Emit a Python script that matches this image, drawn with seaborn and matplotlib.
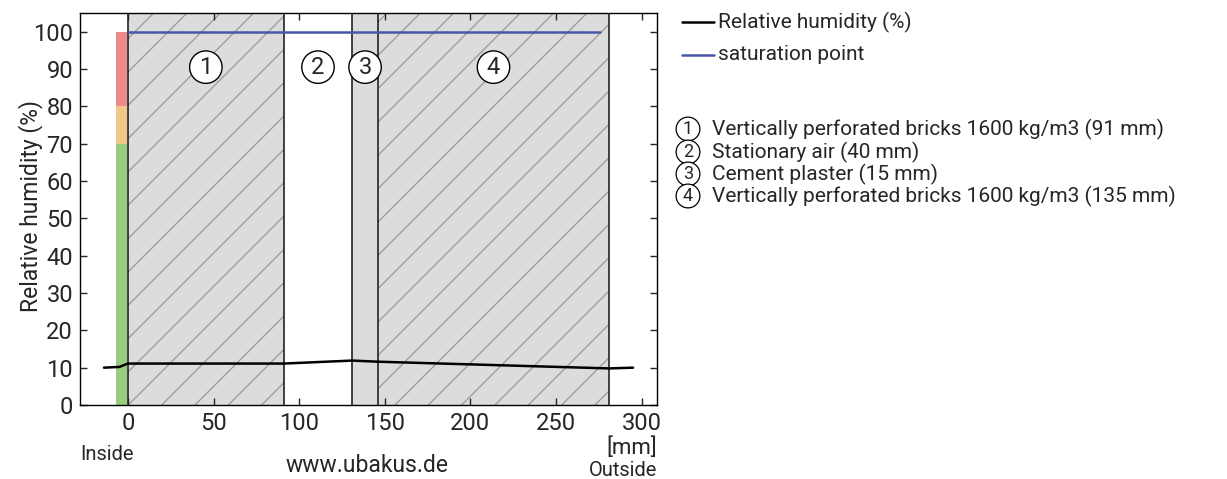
import matplotlib
matplotlib.use("Agg")
import matplotlib.pyplot as plt
import seaborn as sns
import pandas as pd
from matplotlib.lines import Line2D

# ---- data ----
layer_names = ["Vertically perforated bricks 1600 kg/m3 (91 mm)",
               "Stationary air (40 mm)",
               "Cement plaster (15 mm)",
               "Vertically perforated bricks 1600 kg/m3 (135 mm)"]
layer_thickness = [91, 40, 15, 135]
layer_kind = ["brick", "air", "plaster", "brick"]
layer_labels = ["1", "2", "3", "4"]

rh_x = [-14, -5, 0, 91, 131, 146, 281, 295]
rh_y = [10.0, 10.2, 11.1, 11.1, 11.9, 11.6, 9.8, 10.0]
sat_x = [0, 276]
sat_y = [100, 100]

scale_bounds = [0, 70, 80, 100]
scale_colors = ["#98cd7e", "#f0c987", "#ef8a8a"]

x_ticks = [0, 50, 100, 150, 200, 250, 300]
y_ticks = [0, 10, 20, 30, 40, 50, 60, 70, 80, 90, 100]

sns.set_style("ticks")
plt.rcParams['font.family'] = ['Roboto', 'DejaVu Sans']
plt.rcParams['hatch.linewidth'] = 0.9

fig = plt.figure(figsize=(12.27, 4.79), dpi=100)
ax = fig.add_axes([80/1227, 1-405/479, (657-80)/1227, (405-13)/479])

# layers
pos = 0
bounds = [0]
for t, kind, lab in zip(layer_thickness, layer_kind, layer_labels):
    x0, x1 = pos, pos + t
    if kind == "brick":
        ax.axvspan(x0, x1, facecolor="#dcdcdc", edgecolor="#999999", hatch="/", linewidth=0, zorder=0)
    elif kind == "plaster":
        ax.axvspan(x0, x1, facecolor="#dcdcdc", edgecolor="none", linewidth=0, zorder=0)
    ax.text((x0 + x1) / 2, 90.5, lab, ha="center", va="center", fontsize=17,
            bbox=dict(boxstyle="circle,pad=0.2", facecolor="white", edgecolor="black", linewidth=1), zorder=5)
    pos = x1
    bounds.append(pos)
for b in bounds:
    ax.axvline(b, color="#222222", linewidth=1.2, zorder=3)

# comfort scale bar
for lo, hi, c in zip(scale_bounds[:-1], scale_bounds[1:], scale_colors):
    ax.bar(-4, hi - lo, bottom=lo, width=6.4, color=c, linewidth=0, zorder=2)

df_rh = pd.DataFrame({"x": rh_x, "y": rh_y})
df_sat = pd.DataFrame({"x": sat_x, "y": sat_y})
sns.lineplot(data=df_sat, x="x", y="y", color="#4a56a8", linewidth=1.8, ax=ax, zorder=4)
sns.lineplot(data=df_rh, x="x", y="y", color="black", linewidth=1.8, ax=ax, zorder=4)

ax.set_xlim(-28, 309)
ax.set_ylim(0, 105)
ax.set_xticks(x_ticks)
ax.set_yticks(y_ticks)
ax.tick_params(direction="in", top=True, right=True, labelsize=17, length=5, width=1, pad=5)
ax.set_xlabel("")
ax.set_ylabel("Relative humidity (%)", fontsize=16.5)
ax.yaxis.set_label_coords(-0.064, 0.508)
for s in ax.spines.values():
    s.set_color("black")
    s.set_linewidth(1)

# bottom annotations
fig.text(107/1227, 1-455/479, "Inside", ha="center", va="center", fontsize=14.5)
fig.text(367/1227, 1-466/479, "www.ubakus.de", ha="center", va="center", fontsize=16.5)
fig.text(657/1227, 1-448/479, "[mm]", ha="right", va="center", fontsize=16)
fig.text(657/1227, 1-470/479, "Outside", ha="right", va="center", fontsize=14.5)

# legend lines
fig.add_artist(Line2D([682/1227, 714/1227], [1-22/479, 1-22/479], color="black", linewidth=1.8))
fig.add_artist(Line2D([682/1227, 714/1227], [1-55/479, 1-55/479], color="#4a56a8", linewidth=1.8))
fig.text(718/1227, 1-22/479, "Relative humidity (%)", ha="left", va="center", fontsize=15)
fig.text(718/1227, 1-55/479, "saturation point", ha="left", va="center", fontsize=15)

rows = [129, 152, 174, 196]
for lab, name, r in zip(layer_labels, layer_names, rows):
    fig.text(688/1227, 1-r/479, lab, ha="center", va="center", fontsize=13,
             bbox=dict(boxstyle="circle,pad=0.16", facecolor="white", edgecolor="black", linewidth=0.9))
    fig.text(712/1227, 1-r/479, name, ha="left", va="center", fontsize=15)

fig.savefig("out.png", dpi=100)
